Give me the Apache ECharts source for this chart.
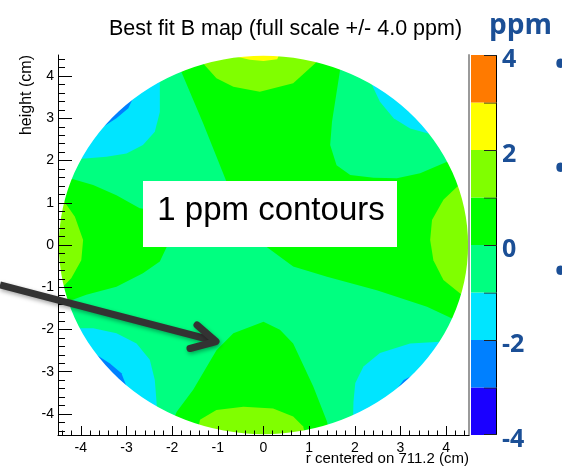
<!DOCTYPE html>
<html><head><meta charset="utf-8">
<script src="https://cdn.jsdelivr.net/npm/echarts@6/dist/echarts.min.js"></script>
<style>html,body{margin:0;padding:0;background:#fff}#main{width:562px;height:467px}</style>
</head><body><div id="main"></div>
<script>
// ---- values ----
const bandEdges = [-4, -3, -2, -1, 0, 1, 2, 3, 4];          // ppm contour levels
const colorbarLabels = [-4, -2, 0, 2, 4];                    // palette labels
const axisRange = [-4.5, 4.5];                               // cm
const majorTicks = [-4, -3, -2, -1, 0, 1, 2, 3, 4];          // cm, labelled ticks
const circleRadius = 4.48;                                   // cm

// contour regions: [r (cm), height (cm)] boundary points
const baseRegion = [[-4.7,-4.7],[4.7,-4.7],[4.7,4.7],[-4.7,4.7]];
const greenTopRight = [[-2.0,4.7],[1.76,4.7],[1.67,4.10],[1.50,2.92],[1.46,2.37],[1.60,1.89],[1.90,1.66],[2.41,1.59],[2.92,1.58],[3.43,1.70],[4.02,1.97],[4.7,2.15],[4.7,-1.95],[4.13,-1.74],[3.58,-1.46],[2.48,-1.07],[1.39,-0.75],[0.65,-0.51],[0.07,-0.05],[-0.3,0.5],[-0.81,1.50],[-1.32,2.88],[-1.83,4.18]];
const greenLeft = [[-4.7,1.75],[-4.24,1.58],[-3.73,1.42],[-3.22,1.18],[-2.71,0.87],[-1.6,0.7],[-0.3,0.5],[-1.2,0.05],[-2.0,0.0],[-2.12,-0.05],[-2.27,-0.39],[-2.64,-0.67],[-3.22,-0.99],[-3.88,-1.18],[-4.28,-1.34],[-4.7,-1.5]];
const greenBottom = [[-2.2,-4.7],[-1.90,-3.95],[-1.54,-3.43],[-1.03,-2.49],[-0.66,-2.09],[0.0,-1.82],[0.36,-2.01],[0.65,-2.33],[1.09,-3.35],[1.39,-4.18],[1.5,-4.7]];
const lightGreenTop = [[-1.45,4.7],[-1.32,4.30],[-1.03,3.95],[-0.66,3.75],[-0.08,3.63],[0.65,3.83],[1.17,4.34],[1.3,4.7]];
const lightGreenRight = [[4.45,1.55],[4.24,1.38],[3.94,1.07],[3.69,0.59],[3.65,0.12],[3.72,-0.36],[3.94,-0.83],[4.3,-1.14],[4.6,-1.3],[4.7,0]];
const lightGreenLeft = [[-4.5,1.25],[-4.39,1.07],[-4.13,0.67],[-3.95,0.12],[-3.99,-0.36],[-4.21,-0.79],[-4.39,-0.99],[-4.6,-1.15],[-4.7,0]];
const lightGreenBottom = [[-1.5,-4.7],[-1.39,-4.14],[-1.03,-3.91],[-0.44,-3.83],[0.21,-3.87],[0.65,-4.06],[0.87,-4.30],[0.95,-4.7]];
const yellowTop = [[-0.65,4.7],[-0.58,4.46],[-0.3,4.39],[0.0,4.36],[0.3,4.40],[0.42,4.7]];
const cyanUpperLeft = [[-2.3,4.7],[-2.27,3.87],[-2.27,3.15],[-2.38,2.68],[-2.64,2.37],[-3.0,2.17],[-3.44,2.09],[-3.91,2.05],[-4.7,2.0],[-4.7,4.7]];
const cyanUpperRight = [[2.28,4.7],[2.34,3.87],[2.55,3.39],[2.85,3.0],[3.21,2.76],[3.61,2.64],[4.7,2.5],[4.7,4.7]];
const cyanLowerLeft = [[-4.7,-1.9],[-4.05,-1.97],[-3.73,-1.97],[-3.22,-2.09],[-2.78,-2.33],[-2.49,-2.72],[-2.38,-3.20],[-2.34,-3.75],[-2.3,-4.7],[-4.7,-4.7]];
const cyanLowerRight = [[4.7,-2.25],[3.87,-2.29],[3.21,-2.33],[2.55,-2.56],[2.19,-2.88],[2.01,-3.27],[1.97,-3.71],[1.95,-4.7],[4.7,-4.7]];
const blueUpperLeft = [[-2.9,3.75],[-2.86,3.47],[-2.96,3.24],[-3.22,3.0],[-3.51,2.80],[-3.62,2.67],[-3.95,2.6],[-4.2,3.3]];
const blueLowerLeft = [[-3.85,-2.55],[-3.66,-2.60],[-3.37,-2.80],[-3.11,-3.04],[-3.0,-3.35],[-3.05,-3.65],[-3.9,-3.3]];
const blueLowerRight = [[3.5,-2.95],[3.36,-3.04],[3.07,-3.20],[2.85,-3.51],[2.9,-3.8],[3.7,-3.3]];

// field value (ppm, band centre) of each region, in drawing order
const regionShapes = [baseRegion, greenTopRight, greenLeft, greenBottom, lightGreenTop, lightGreenRight, lightGreenLeft, lightGreenBottom, yellowTop, cyanUpperLeft, cyanUpperRight, cyanLowerLeft, cyanLowerRight, blueUpperLeft, blueLowerLeft, blueLowerRight];
const regionValues = [-0.5, 0.5, 0.5, 0.5, 1.5, 1.5, 1.5, 1.5, 2.5, -1.5, -1.5, -1.5, -1.5, -2.5, -2.5, -2.5];

// ---- styles ----
const bandColors = ['#1a00ff', '#0080ff', '#00e5ff', '#00ff80', '#00ff00', '#80ff00', '#ffff00', '#ff7a00'];
const slideBlue = '#1b4f96';
const font = 'Liberation Sans';

// minor tick positions every 0.2 cm (axis decoration)
const minorTicks = [];
for (let k = -22; k <= 22; k++) { if (k % 5 !== 0) minorTicks.push(Math.round(k * 2) / 10); }

const chart = echarts.init(document.getElementById('main'));

const pieces = bandColors.map((c, i) => ({ gte: bandEdges[i], lt: bandEdges[i + 1], color: c }));
const paletteData = bandEdges.slice(0, -1).map((lo, i) => [(lo + bandEdges[i + 1]) / 2, lo, bandEdges[i + 1]]);

function renderRegion(params, api) {
  const shape = regionShapes[api.value(1)];
  return {
    type: 'polygon',
    shape: { points: shape.map(p => api.coord(p)) },
    style: { fill: api.visual('color'), stroke: null }
  };
}
function renderPalette(params, api) {
  const a = api.coord([0, api.value(2)]);
  const b = api.coord([1, api.value(1)]);
  const tickLen = 13;
  const children = [
    { type: 'rect', shape: { x: a[0], y: a[1], width: b[0] - a[0], height: b[1] - a[1] }, style: { fill: api.visual('color') } },
    { type: 'line', shape: { x1: b[0] - 0.5, y1: a[1], x2: b[0] - 0.5, y2: b[1] }, style: { stroke: '#000', lineWidth: 1 } },
    { type: 'line', shape: { x1: b[0] - tickLen, y1: a[1] + 0.5, x2: b[0], y2: a[1] + 0.5 }, style: { stroke: '#222', lineWidth: 1 } }
  ];
  if (params.dataIndex === 0) {
    children.push({ type: 'line', shape: { x1: b[0] - tickLen, y1: b[1] - 0.5, x2: b[0], y2: b[1] - 0.5 }, style: { stroke: '#222', lineWidth: 1 } });
  }
  return { type: 'group', children: children };
}
function renderMask(params, api) {
  const tl = api.coord([axisRange[0], axisRange[1]]);
  const br = api.coord([axisRange[1], axisRange[0]]);
  const c = api.coord([0, 0]);
  const s = api.size([circleRadius, circleRadius]);
  const rx = s[0], ry = s[1];
  const d = 'M' + (tl[0] - 2) + ' ' + (tl[1] - 2) + ' L' + (br[0] + 2) + ' ' + (tl[1] - 2) +
    ' L' + (br[0] + 2) + ' ' + (br[1] + 2) + ' L' + (tl[0] - 2) + ' ' + (br[1] + 2) + ' Z ' +
    'M' + (c[0] + rx) + ' ' + c[1] + ' A' + rx + ' ' + ry + ' 0 1 0 ' + (c[0] - rx) + ' ' + c[1] +
    ' A' + rx + ' ' + ry + ' 0 1 0 ' + (c[0] + rx) + ' ' + c[1] + ' Z';
  return { type: 'path', shape: { pathData: d }, style: { fill: '#ffffff' } };
}

const mainAxisCommon = {
  type: 'value', min: axisRange[0], max: axisRange[1], splitNumber: 9, z: 10,
  splitLine: { show: false }, minorSplitLine: { show: false }, minorTick: { show: false }
};
const bulletStyle = { text: '•', fontSize: 40, fontFamily: 'Open Sans', fill: slideBlue, align: 'left', verticalAlign: 'middle', textAlign: 'left', textVerticalAlign: 'middle' };
const graphicText = (x, y, text, size, align, extra) => Object.assign({ type: 'text', z: 101, x: x, y: y,
  style: { text: text, fontSize: size, fontFamily: font, fill: '#000', align: align, verticalAlign: 'middle', textAlign: align, textVerticalAlign: 'middle' } }, extra || {});

chart.setOption({
  animation: false,
  textStyle: { fontFamily: font },
  title: [
    { text: 'Best fit B map (full scale +/- 4.0 ppm)', left: 109, top: 18, padding: 0,
      textStyle: { fontSize: 21.5, fontWeight: 'normal', color: '#000', fontFamily: font } },
    { text: 'ppm', left: 489, top: 12, padding: 0,
      textStyle: { fontSize: 28, fontWeight: 'bold', color: slideBlue, fontFamily: 'Open Sans' } }
  ],
  grid: [
    { left: 58, top: 55, width: 411, height: 380, outerBoundsMode: 'none', containLabel: false },
    { left: 471, top: 55, width: 26, height: 380, outerBoundsMode: 'none', containLabel: false }
  ],
  xAxis: [
    Object.assign({}, mainAxisCommon, {
      gridIndex: 0, position: 'bottom',
      axisLine: { onZero: false, lineStyle: { color: '#000', width: 1 } },
      axisTick: { inside: true, length: 9, customValues: majorTicks, lineStyle: { color: '#000' } },
      axisLabel: { fontSize: 14, color: '#000', margin: 6, customValues: majorTicks }
    }),
    Object.assign({}, mainAxisCommon, {
      gridIndex: 0, position: 'bottom',
      axisLine: { show: false, onZero: false },
      axisTick: { inside: true, length: 4.5, customValues: minorTicks, lineStyle: { color: '#000' } },
      axisLabel: { show: false }
    }),
    { gridIndex: 1, type: 'value', min: 0, max: 1, show: false }
  ],
  yAxis: [
    Object.assign({}, mainAxisCommon, {
      gridIndex: 0, position: 'left',
      axisLine: { onZero: false, lineStyle: { color: '#000', width: 1 } },
      axisTick: { inside: true, length: 14, customValues: majorTicks, lineStyle: { color: '#000' } },
      axisLabel: { fontSize: 14, color: '#000', margin: 4, customValues: majorTicks }
    }),
    Object.assign({}, mainAxisCommon, {
      gridIndex: 0, position: 'left',
      axisLine: { show: false, onZero: false },
      axisTick: { inside: true, length: 7, customValues: minorTicks, lineStyle: { color: '#000' } },
      axisLabel: { show: false }
    }),
    { gridIndex: 0, type: 'value', position: 'right', min: axisRange[0], max: axisRange[1], z: 10,
      axisLine: { show: true, onZero: false, lineStyle: { color: '#9a9a9a', width: 2 } },
      axisTick: { show: false }, axisLabel: { show: false }, splitLine: { show: false } },
    { gridIndex: 1, type: 'value', position: 'right', min: bandEdges[0], max: bandEdges[bandEdges.length - 1], interval: 1, z: 10,
      axisLine: { show: false, onZero: false },
      axisTick: { show: false },
      splitLine: { show: false },
      axisLabel: { margin: 5, fontSize: 25, fontWeight: 'bold', fontFamily: 'Open Sans', color: slideBlue,
        verticalAlign: 'top', lineHeight: 9, customValues: colorbarLabels } }
  ],
  visualMap: {
    type: 'piecewise', show: false, seriesIndex: [0, 2], dimension: 0, pieces: pieces
  },
  series: [
    { type: 'custom', coordinateSystem: 'cartesian2d', xAxisIndex: 0, yAxisIndex: 0, clip: true, z: 2,
      renderItem: renderRegion, silent: true,
      data: regionValues.map((v, i) => [v, i]) },
    { type: 'custom', coordinateSystem: 'cartesian2d', xAxisIndex: 0, yAxisIndex: 0, clip: false, z: 3,
      renderItem: renderMask, data: [[0, 0]], silent: true },
    { type: 'custom', coordinateSystem: 'cartesian2d', xAxisIndex: 2, yAxisIndex: 3, clip: false, z: 1,
      renderItem: renderPalette, data: paletteData, silent: true }
  ],
  graphic: [
    { type: 'line', z: 100, shape: { x1: 0, y1: 285, x2: 213, y2: 340.5 },
      style: { stroke: '#333', lineWidth: 7, shadowBlur: 4, shadowColor: 'rgba(0,0,0,0.35)', shadowOffsetX: 1, shadowOffsetY: 2 } },
    { type: 'polyline', z: 100, shape: { points: [[197, 325], [216, 341.5], [190, 348.5]] },
      style: { stroke: '#333', fill: null, lineWidth: 7, lineJoin: 'round', lineCap: 'round', shadowBlur: 4, shadowColor: 'rgba(0,0,0,0.35)', shadowOffsetX: 1, shadowOffsetY: 2 } },
    { type: 'rect', z: 100, shape: { x: 143, y: 181, width: 254, height: 66 }, style: { fill: '#fff' } },
    graphicText(271, 211, '1 ppm contours', 33, 'center', {}),
    graphicText(27, 55, 'height (cm)', 16, 'right', { rotation: Math.PI / 2 }),
    graphicText(469, 459, 'r centered on 711.2 (cm)', 15, 'right', {}),
    { type: 'text', z: 101, x: 553, y: 67, style: bulletStyle },
    { type: 'text', z: 101, x: 553, y: 171, style: bulletStyle },
    { type: 'text', z: 101, x: 553, y: 274, style: bulletStyle }
  ]
});
</script></body></html>
